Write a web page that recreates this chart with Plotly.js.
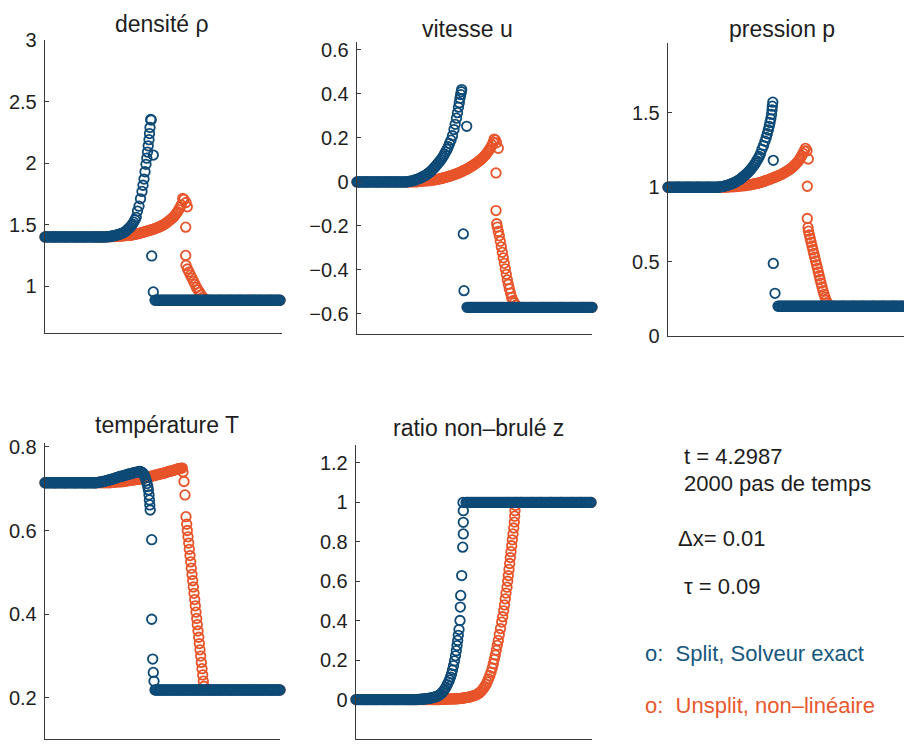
<!DOCTYPE html>
<html>
<head>
<meta charset="utf-8">
<script src="https://cdn.plot.ly/plotly-3.0.1.min.js"></script>
<style>html,body{margin:0;padding:0;background:#fff;}#chart{width:904px;height:748px;}</style>
</head>
<body>
<div id="chart"></div>
<script>
// ---- shared spatial mesh (position along the domain, same for every panel) ----
const xLeft = [0,1.25,2.5,3.75,5,6.25,7.5,8.75,10,11.25,
  12.5,13.75,15,16.25,17.5,18.75,20,21.25,22.5,23.75,
  25,26.25,27.5,28.75,30,31.25,32.5,33.75,35,36.25,
  37.5,38.75,40,41.25,42.5,43.75,45,46.25,47.5,48.75,
  50];
const xRight = [110,111.25,112.5,113.75,115,116.25,117.5,118.75,120,121.25,
  122.5,123.75,125,126.25,127.5,128.75,130,131.25,132.5,133.75,
  135,136.25,137.5,138.75,140,141.25,142.5,143.75,145,146.25,
  147.5,148.75,150,151.25,152.5,153.75,155,156.25,157.5,158.75,
  160,161.25,162.5,163.75,165,166.25,167.5,168.75,170,171.25,
  172.5,173.75,175,176.25,177.5,178.75,180,181.25,182.5,183.75,
  185,186.25,187.5,188.75,190,191.25,192.5,193.75,195,196.25,
  197.5,198.75,200,201.25,202.5,203.75,205,206.25,207.5,208.75,
  210,211.25,212.5,213.75,215,216.25,217.5,218.75,220,221.25,
  222.5,223.75,225,226.25,227.5,228.75,230,231.25,232.5,233.75,
  235];
const blueRiseX = [51.25,52.5,53.75,55,56.25,57.5,58.75,60,61.25,62.5,
  63.75,65,66.25,67.5,68.75,70,71.25,72.5,73.75,75,
  76.25,77.5,78.75,80,81.25,82.5,83.75,85,86.25,87.5,
  88.75,90,91.25];
const redRiseX = [52.5,55,57.5,60,62.5,65,67.5,70,72.5,75,
  76.25,77.5,78.75,80,81.25,82.5,83.75,85,86.25,87.5,
  88.75,90,91.25,92.5,93.75,95,96.25,97.5,98.75,100,
  101.25,102.5,103.75,105,106.25,107.5,108.75,110,111.25,112.5,
  113.75,115,116.25,117.5,118.75,120,121.25,122.5,123.75,125,
  126.25,127.5,128.75,130,131.25,132.5,133.75,135,136.25];
const xLeftCoarse = [0,10,20,30,40,50];
const xRightCoarse = [165,175,185,195,205,215,225,235];

// ================= densité rho =================
const rhoSplitLeftY = [1.4,1.4,1.4,1.4,1.4,1.4,1.4,1.4,1.4,1.4,
  1.4,1.4,1.4,1.4,1.4,1.4,1.4,1.4,1.4,1.4,
  1.4,1.4,1.4,1.4,1.4,1.4,1.4,1.4,1.4,1.4,
  1.4,1.4,1.4,1.4,1.4,1.4,1.4,1.4,1.4,1.4,
  1.4];
const rhoSplitRiseY = [1.4,1.4,1.4,1.4,1.4,1.4,1.4,1.4,1.401,1.402,
  1.403,1.404,1.406,1.408,1.41,1.412,1.415,1.418,1.421,1.424,
  1.428,1.432,1.437,1.442,1.45,1.46,1.47,1.48,1.492,1.505,
  1.52,1.54,1.56];
const rhoSplitJumpX = [92.5,94,95.5,97,98,99,100,101,101.8,102.5,103.2,104,104.5,105,105.7,106.2,108.3,106.7,108.3];
const rhoSplitJumpY = [1.61,1.65,1.71,1.77,1.82,1.87,1.93,1.99,2.04,2.09,2.14,2.19,2.24,2.29,2.355,2.35,2.065,1.246,0.954];
const rhoSplitRightY = [0.886,0.886,0.886,0.886,0.886,0.886,0.886,0.886,0.886,0.886,
  0.886,0.886,0.886,0.886,0.886,0.886,0.886,0.886,0.886,0.886,
  0.886,0.886,0.886,0.886,0.886,0.886,0.886,0.886,0.886,0.886,
  0.886,0.886,0.886,0.886,0.886,0.886,0.886,0.886,0.886,0.886,
  0.886,0.886,0.886,0.886,0.886,0.886,0.886,0.886,0.886,0.886,
  0.886,0.886,0.886,0.886,0.886,0.886,0.886,0.886,0.886,0.886,
  0.886,0.886,0.886,0.886,0.886,0.886,0.886,0.886,0.886,0.886,
  0.886,0.886,0.886,0.886,0.886,0.886,0.886,0.886,0.886,0.886,
  0.886,0.886,0.886,0.886,0.886,0.886,0.886,0.886,0.886,0.886,
  0.886,0.886,0.886,0.886,0.886,0.886,0.886,0.886,0.886,0.886,
  0.886];
const rhoUnsplitLeftY = [1.4,1.4,1.4,1.4,1.4,1.4];
const rhoUnsplitRiseY = [1.4,1.4,1.4,1.401,1.401,1.402,1.403,1.404,1.405,1.407,
  1.408,1.409,1.41,1.411,1.412,1.413,1.414,1.415,1.416,1.418,
  1.42,1.422,1.424,1.426,1.429,1.432,1.434,1.437,1.44,1.443,
  1.446,1.449,1.452,1.455,1.458,1.461,1.464,1.468,1.472,1.476,
  1.48,1.485,1.49,1.495,1.5,1.507,1.514,1.521,1.529,1.537,
  1.546,1.555,1.565,1.577,1.59,1.605,1.622,1.64,1.66];
const rhoUnsplitJumpX = [137.7,139,141,142.3,140.7,140.7,141,142.5,144,145.5,147,148.5,150,151.5,153,154.5,156,158,160];
const rhoUnsplitJumpY = [1.713,1.705,1.68,1.645,1.48,1.25,1.17,1.14,1.115,1.09,1.065,1.04,1.015,0.99,0.97,0.95,0.93,0.91,0.895];
const rhoUnsplitRightY = [0.886,0.886,0.886,0.886,0.886,0.886,0.886,0.886];

// ================= vitesse u =================
const uSplitLeftY = [0,0,0,0,0,0,0,0,0,0,
  0,0,0,0,0,0,0,0,0,0,
  0,0,0,0,0,0,0,0,0,0,
  0,0,0,0,0,0,0,0,0,0,
  0];
const uSplitRiseY = [0.002,0.003,0.004,0.005,0.006,0.008,0.01,0.012,0.014,0.016,
  0.019,0.022,0.025,0.028,0.031,0.035,0.039,0.043,0.048,0.054,
  0.06,0.066,0.072,0.079,0.086,0.093,0.1,0.108,0.117,0.127,
  0.137,0.148,0.16];
const uSplitJumpX = [92.5,94,95.5,97,98.2,99.5,100.5,101.5,102.3,103,103.7,104.3,104.7,109.7,106.3,107];
const uSplitJumpY = [0.175,0.19,0.21,0.238,0.262,0.29,0.315,0.34,0.36,0.38,0.397,0.41,0.42,0.253,-0.236,-0.494];
const uSplitRightY = [-0.57,-0.57,-0.57,-0.57,-0.57,-0.57,-0.57,-0.57,-0.57,-0.57,
  -0.57,-0.57,-0.57,-0.57,-0.57,-0.57,-0.57,-0.57,-0.57,-0.57,
  -0.57,-0.57,-0.57,-0.57,-0.57,-0.57,-0.57,-0.57,-0.57,-0.57,
  -0.57,-0.57,-0.57,-0.57,-0.57,-0.57,-0.57,-0.57,-0.57,-0.57,
  -0.57,-0.57,-0.57,-0.57,-0.57,-0.57,-0.57,-0.57,-0.57,-0.57,
  -0.57,-0.57,-0.57,-0.57,-0.57,-0.57,-0.57,-0.57,-0.57,-0.57,
  -0.57,-0.57,-0.57,-0.57,-0.57,-0.57,-0.57,-0.57,-0.57,-0.57,
  -0.57,-0.57,-0.57,-0.57,-0.57,-0.57,-0.57,-0.57,-0.57,-0.57,
  -0.57,-0.57,-0.57,-0.57,-0.57,-0.57,-0.57,-0.57,-0.57,-0.57,
  -0.57,-0.57,-0.57,-0.57,-0.57,-0.57,-0.57,-0.57,-0.57,-0.57,
  -0.57];
const uUnsplitLeftY = [0,0,0,0,0,0];
const uUnsplitRiseY = [0,0,0,0.001,0.002,0.003,0.004,0.005,0.006,0.008,
  0.009,0.01,0.011,0.012,0.013,0.014,0.015,0.017,0.018,0.02,
  0.021,0.023,0.025,0.026,0.028,0.03,0.032,0.034,0.036,0.038,
  0.04,0.043,0.045,0.048,0.051,0.054,0.056,0.059,0.062,0.066,
  0.069,0.073,0.076,0.08,0.084,0.088,0.092,0.097,0.101,0.106,
  0.112,0.118,0.124,0.131,0.139,0.147,0.157,0.168,0.18];
const uUnsplitJumpX = [137.2,138.5,139.5,141.3,139,139,139.7,140.3,141.3,142.3,143.3,144.3,145.3,146.3,147.3,148.3,149.3,150.3,151.3,152.3,153.5,154.7,156,157.3,158.7];
const uUnsplitJumpY = [0.195,0.19,0.178,0.153,0.041,-0.13,-0.19,-0.205,-0.225,-0.245,-0.27,-0.295,-0.32,-0.345,-0.37,-0.395,-0.42,-0.445,-0.465,-0.485,-0.505,-0.525,-0.54,-0.55,-0.56];
const uUnsplitRightY = [-0.57,-0.57,-0.57,-0.57,-0.57,-0.57,-0.57,-0.57];

// ================= pression p =================
const pSplitLeftY = [1,1,1,1,1,1,1,1,1,1,
  1,1,1,1,1,1,1,1,1,1,
  1,1,1,1,1,1,1,1,1,1,
  1,1,1,1,1,1,1,1,1,1,
  1];
const pSplitRiseY = [1.002,1.003,1.004,1.006,1.008,1.01,1.012,1.015,1.018,1.021,
  1.024,1.027,1.031,1.035,1.04,1.045,1.05,1.056,1.063,1.07,
  1.077,1.084,1.092,1.1,1.109,1.118,1.128,1.139,1.151,1.164,
  1.178,1.192,1.207];
const pSplitJumpX = [92.5,94,95.5,97,98.2,99.3,100.3,101.2,102,102.8,103.5,104,104.3,104.8,105.3,105.3,107];
const pSplitJumpY = [1.225,1.255,1.28,1.31,1.335,1.36,1.385,1.41,1.435,1.46,1.49,1.52,1.545,1.572,1.181,0.488,0.287];
const pSplitRightY = [0.2,0.2,0.2,0.2,0.2,0.2,0.2,0.2,0.2,0.2,
  0.2,0.2,0.2,0.2,0.2,0.2,0.2,0.2,0.2,0.2,
  0.2,0.2,0.2,0.2,0.2,0.2,0.2,0.2,0.2,0.2,
  0.2,0.2,0.2,0.2,0.2,0.2,0.2,0.2,0.2,0.2,
  0.2,0.2,0.2,0.2,0.2,0.2,0.2,0.2,0.2,0.2,
  0.2,0.2,0.2,0.2,0.2,0.2,0.2,0.2,0.2,0.2,
  0.2,0.2,0.2,0.2,0.2,0.2,0.2,0.2,0.2,0.2,
  0.2,0.2,0.2,0.2,0.2,0.2,0.2,0.2,0.2,0.2,
  0.2,0.2,0.2,0.2,0.2,0.2,0.2,0.2,0.2,0.2,
  0.2,0.2,0.2,0.2,0.2,0.2,0.2,0.2,0.2,0.2,
  0.2];
const pUnsplitLeftY = [1,1,1,1,1,1];
const pUnsplitRiseY = [1,1,1,1.001,1.002,1.003,1.004,1.006,1.008,1.01,
  1.011,1.012,1.013,1.015,1.016,1.018,1.019,1.021,1.023,1.024,
  1.026,1.028,1.03,1.033,1.035,1.038,1.041,1.044,1.047,1.05,
  1.053,1.056,1.06,1.063,1.066,1.07,1.073,1.077,1.08,1.084,
  1.088,1.093,1.097,1.102,1.108,1.113,1.118,1.124,1.131,1.138,
  1.146,1.154,1.163,1.173,1.185,1.198,1.212,1.228,1.245];
const pUnsplitJumpX = [137.5,139,140.3,139.3,139.3,140,140.5,141.3,142.2,143.1,144,144.9,145.8,146.7,147.6,148.5,149.4,150.3,151.2,152.1,153,154,155,156,157,158,159,160];
const pUnsplitJumpY = [1.262,1.245,1.19,1.007,0.79,0.73,0.705,0.68,0.655,0.63,0.605,0.58,0.555,0.53,0.505,0.48,0.455,0.43,0.405,0.38,0.355,0.33,0.305,0.28,0.26,0.24,0.225,0.21];
const pUnsplitRightY = [0.2,0.2,0.2,0.2,0.2,0.2,0.2,0.2];

// ================= température T =================
const tSplitLeftY = [0.714,0.714,0.714,0.714,0.714,0.714,0.714,0.714,0.714,0.714,
  0.714,0.714,0.714,0.714,0.714,0.714,0.714,0.714,0.714,0.714,
  0.714,0.714,0.714,0.714,0.714,0.714,0.714,0.714,0.714,0.714,
  0.714,0.714,0.714,0.714,0.714,0.714,0.714,0.714,0.714,0.714,
  0.714];
const tSplitRiseY = [0.714,0.715,0.715,0.716,0.716,0.717,0.717,0.718,0.719,0.72,
  0.72,0.721,0.722,0.723,0.724,0.725,0.726,0.727,0.728,0.729,
  0.73,0.73,0.731,0.732,0.733,0.734,0.735,0.735,0.736,0.737,
  0.738,0.739,0.739];
const tSplitJumpX = [92.5,94,95.5,97,98.2,99.3,100.2,101.2,102,102.8,103.4,104,104.4,104.8,105.2,106.7,106.7,107.7,108.3,109];
const tSplitJumpY = [0.74,0.741,0.741,0.739,0.736,0.732,0.726,0.719,0.712,0.705,0.697,0.685,0.673,0.661,0.649,0.578,0.388,0.293,0.261,0.24];
const tSplitRightY = [0.219,0.219,0.219,0.219,0.219,0.219,0.219,0.219,0.219,0.219,
  0.219,0.219,0.219,0.219,0.219,0.219,0.219,0.219,0.219,0.219,
  0.219,0.219,0.219,0.219,0.219,0.219,0.219,0.219,0.219,0.219,
  0.219,0.219,0.219,0.219,0.219,0.219,0.219,0.219,0.219,0.219,
  0.219,0.219,0.219,0.219,0.219,0.219,0.219,0.219,0.219,0.219,
  0.219,0.219,0.219,0.219,0.219,0.219,0.219,0.219,0.219,0.219,
  0.219,0.219,0.219,0.219,0.219,0.219,0.219,0.219,0.219,0.219,
  0.219,0.219,0.219,0.219,0.219,0.219,0.219,0.219,0.219,0.219,
  0.219,0.219,0.219,0.219,0.219,0.219,0.219,0.219,0.219,0.219,
  0.219,0.219,0.219,0.219,0.219,0.219,0.219,0.219,0.219,0.219,
  0.219];
const tUnsplitLeftY = [0.714,0.714,0.714,0.714,0.714,0.714];
const tUnsplitRiseY = [0.714,0.714,0.714,0.714,0.714,0.714,0.715,0.715,0.716,0.716,
  0.717,0.717,0.717,0.718,0.718,0.719,0.719,0.72,0.72,0.721,
  0.721,0.721,0.722,0.722,0.723,0.723,0.724,0.725,0.725,0.726,
  0.727,0.727,0.728,0.729,0.73,0.73,0.731,0.732,0.733,0.733,
  0.734,0.735,0.736,0.736,0.737,0.738,0.739,0.74,0.741,0.742,
  0.742,0.743,0.744,0.745,0.746,0.747,0.748,0.748,0.749];
const tUnsplitJumpX = [137.3,138,139,140,141,141.7,142.3,143,143.7,144.3,145,145.7,146.3,147,147.7,148.3,149,149.7,150.3,151,151.7,152.3,153,153.7,154.3,155,155.7,156.3,157,157.7,158.3,159];
const tUnsplitJumpY = [0.749,0.74,0.717,0.685,0.633,0.615,0.6,0.585,0.57,0.555,0.54,0.525,0.51,0.495,0.48,0.465,0.45,0.435,0.42,0.405,0.39,0.375,0.36,0.345,0.33,0.315,0.3,0.285,0.27,0.255,0.24,0.228];
const tUnsplitRightY = [0.219,0.219,0.219,0.219,0.219,0.219,0.219,0.219];

// ================= ratio non-brulé z =================
const zSplitLeftY = [0,0,0,0,0,0,0,0,0,0,
  0,0,0,0,0,0,0,0,0,0,
  0,0,0,0,0,0,0,0,0,0,
  0,0,0,0,0,0,0,0,0,0,
  0];
const zSplitRiseY = [0,0,0,0,0,0,0,0,0,0.001,
  0.001,0.002,0.002,0.003,0.003,0.004,0.005,0.006,0.007,0.008,
  0.01,0.011,0.013,0.015,0.017,0.02,0.025,0.03,0.036,0.043,
  0.052,0.063,0.076];
const zSplitJumpX = [92.5,93.5,94.5,95.5,96.5,97.5,98.5,99.5,100.3,101,101.7,102.3,103,104,104.3,104.7,105.7,106.7,107.3,107.3,107.3,107];
const zSplitJumpY = [0.088,0.1,0.114,0.13,0.15,0.172,0.196,0.222,0.248,0.274,0.3,0.326,0.355,0.401,0.469,0.528,0.629,0.773,0.84,0.899,0.958,1];
const zSplitRightY = [1,1,1,1,1,1,1,1,1,1,
  1,1,1,1,1,1,1,1,1,1,
  1,1,1,1,1,1,1,1,1,1,
  1,1,1,1,1,1,1,1,1,1,
  1,1,1,1,1,1,1,1,1,1,
  1,1,1,1,1,1,1,1,1,1,
  1,1,1,1,1,1,1,1,1,1,
  1,1,1,1,1,1,1,1,1,1,
  1,1,1,1,1,1,1,1,1,1,
  1,1,1,1,1,1,1,1,1,1,
  1];
const zUnsplitLeftY = [0,0,0,0,0,0];
const zUnsplitRiseY = [0,0,0,0,0,0,0,0,0,0,
  0,0,0,0,0,0,0,0.001,0.001,0.001,
  0.002,0.002,0.002,0.002,0.003,0.003,0.003,0.003,0.004,0.004,
  0.004,0.005,0.005,0.006,0.007,0.008,0.009,0.01,0.011,0.012,
  0.014,0.015,0.017,0.019,0.021,0.024,0.027,0.031,0.036,0.042,
  0.049,0.057,0.066,0.077,0.09,0.105,0.121,0.139,0.16];
const zUnsplitJumpX = [137.3,138.3,139.3,140.3,141.3,142.3,143.3,144.5,145.7,146.7,147.7,148.5,149.3,150,151,151.7,152.3,153,153.7,154.3,155,155.7,156.3,157,157.7,158.3,158.7,159,159.5,160];
const zUnsplitJumpY = [0.182,0.204,0.226,0.25,0.275,0.3,0.33,0.36,0.393,0.42,0.45,0.48,0.511,0.54,0.57,0.6,0.629,0.66,0.69,0.72,0.75,0.78,0.81,0.84,0.87,0.9,0.93,0.958,0.985,1];
const zUnsplitRightY = [1,1,1,1,1,1,1,1];

// ---- tick labels ----
const rhoTicks = [1,1.5,2,2.5,3];
const rhoTickText = ['1','1.5','2','2.5','3'];
const uTicks = [-0.6,-0.4,-0.2,0,0.2,0.4,0.6];
const uTickText = ['\u22120.6','\u22120.4','\u22120.2','0','0.2','0.4','0.6'];
const pTicks = [0,0.5,1,1.5];
const pTickText = ['0','0.5','1','1.5'];
const tTicks = [0.2,0.4,0.6,0.8];
const tTickText = ['0.2','0.4','0.6','0.8'];
const zTicks = [-0.2,0,0.2,0.4,0.6,0.8,1,1.2];
const zTickText = ['\u22120.2','0','0.2','0.4','0.6','0.8','1','1.2'];

const titles = ['densité ρ','vitesse u','pression p','température T','ratio non\u2013brulé z'];
const infoLines = ['t = 4.2987','2000 pas de temps','\u0394x= 0.01','\u03c4 = 0.09'];
const legendLabels = ['o:\u00a0 Split, Solveur exact','o:\u00a0 Unsplit, non\u2013linéaire'];

// ---- styling ----
const W = 904, H = 748;
const BLUE = '#0e4a76', ORANGE = '#e8542a';
const FONT = 'Liberation Sans, Arial, Helvetica, sans-serif';
const TXT = '#1e1e1e';
const fx = px => px / W;
const fy = py => 1 - py / H;

function series(xs, ys, color, ax) {
  return {
    type: 'scatter', mode: 'markers', x: [].concat(...xs), y: [].concat(...ys),
    xaxis: 'x' + ax, yaxis: 'y' + ax, cliponaxis: false, hoverinfo: 'skip',
    marker: {symbol: 'circle-open', size: 9.5, color: color, line: {width: 1.8, color: color}}
  };
}

const traces = [
  series([xLeftCoarse, redRiseX, rhoUnsplitJumpX, xRightCoarse], [rhoUnsplitLeftY, rhoUnsplitRiseY, rhoUnsplitJumpY, rhoUnsplitRightY], ORANGE, ''),
  series([xLeft, blueRiseX, rhoSplitJumpX, xRight], [rhoSplitLeftY, rhoSplitRiseY, rhoSplitJumpY, rhoSplitRightY], BLUE, ''),
  series([xLeftCoarse, redRiseX, uUnsplitJumpX, xRightCoarse], [uUnsplitLeftY, uUnsplitRiseY, uUnsplitJumpY, uUnsplitRightY], ORANGE, '2'),
  series([xLeft, blueRiseX, uSplitJumpX, xRight], [uSplitLeftY, uSplitRiseY, uSplitJumpY, uSplitRightY], BLUE, '2'),
  series([xLeftCoarse, redRiseX, pUnsplitJumpX, xRightCoarse], [pUnsplitLeftY, pUnsplitRiseY, pUnsplitJumpY, pUnsplitRightY], ORANGE, '3'),
  series([xLeft, blueRiseX, pSplitJumpX, xRight], [pSplitLeftY, pSplitRiseY, pSplitJumpY, pSplitRightY], BLUE, '3'),
  series([xLeftCoarse, redRiseX, tUnsplitJumpX, xRightCoarse], [tUnsplitLeftY, tUnsplitRiseY, tUnsplitJumpY, tUnsplitRightY], ORANGE, '4'),
  series([xLeft, blueRiseX, tSplitJumpX, xRight], [tSplitLeftY, tSplitRiseY, tSplitJumpY, tSplitRightY], BLUE, '4'),
  series([xLeftCoarse, redRiseX, zUnsplitJumpX, xRightCoarse], [zUnsplitLeftY, zUnsplitRiseY, zUnsplitJumpY, zUnsplitRightY], ORANGE, '5'),
  series([xLeft, blueRiseX, zSplitJumpX, xRight], [zSplitLeftY, zSplitRiseY, zSplitJumpY, zSplitRightY], BLUE, '5')
];

function xax(l, r, range, anchor) {
  return {domain: [fx(l), Math.min(1, fx(r))], range: range, anchor: anchor,
    showline: true, linecolor: '#3a3a3a', linewidth: 1.3, ticks: '', showticklabels: false,
    showgrid: false, zeroline: false, fixedrange: true};
}
function yax(top, bottom, range, tv, tt, anchor) {
  return {domain: [fy(bottom), fy(top)], range: range, anchor: anchor,
    showline: true, linecolor: '#3a3a3a', linewidth: 1.3, ticks: 'inside', ticklen: 4,
    tickwidth: 1, tickcolor: '#3a3a3a', tickvals: tv, ticktext: tt, ticklabelstandoff: 3,
    tickfont: {family: FONT, size: 20, color: TXT},
    showgrid: false, zeroline: false, fixedrange: true};
}

const annotations = [];
const titlePos = [[162, 24], [467, 29], [782, 29], [167, 425], [478, 428]];
titles.forEach((t, i) => annotations.push({
  text: t, xref: 'paper', yref: 'paper', x: fx(titlePos[i][0]), y: fy(titlePos[i][1]),
  xanchor: 'center', yanchor: 'middle', showarrow: false,
  font: {family: FONT, size: 23, color: TXT}
}));
const infoPos = [[682, 456], [682, 483], [676, 538], [682, 586]];
infoLines.forEach((t, i) => annotations.push({
  text: t, xref: 'paper', yref: 'paper', x: fx(infoPos[i][0]), y: fy(infoPos[i][1]),
  xanchor: 'left', yanchor: 'middle', showarrow: false,
  font: {family: FONT, size: 22, color: TXT}
}));
const legendPos = [[643, 653], [643, 705]];
const legendColors = ['#17587e', '#e8582e'];
legendLabels.forEach((t, i) => annotations.push({
  text: t, xref: 'paper', yref: 'paper', x: fx(legendPos[i][0]), y: fy(legendPos[i][1]),
  xanchor: 'left', yanchor: 'middle', showarrow: false,
  font: {family: FONT, size: 22, color: legendColors[i]}
}));

const layout = {
  width: W, height: H, margin: {l: 0, r: 0, t: 0, b: 0},
  paper_bgcolor: '#ffffff', plot_bgcolor: 'rgba(0,0,0,0)', showlegend: false,
  xaxis: xax(45, 282, [0, 237], 'y'),
  yaxis: yax(40, 333, [0.62, 3], rhoTicks, rhoTickText, 'x'),
  xaxis2: xax(357, 592, [0, 235], 'y2'),
  yaxis2: yax(42, 334, [-0.691, 0.636], uTicks, uTickText, 'x2'),
  xaxis3: xax(668, 904, [0, 236], 'y3'),
  yaxis3: yax(43, 336, [0, 1.97], pTicks, pTickText, 'x3'),
  xaxis4: xax(45, 280, [0, 235], 'y4'),
  yaxis4: yax(443, 739, [0.102, 0.809], tTicks, tTickText, 'x4'),
  xaxis5: xax(356, 592, [0, 236], 'y5'),
  yaxis5: yax(445, 739, [-0.2, 1.291], zTicks, zTickText, 'x5'),
  annotations: annotations
};

Plotly.newPlot('chart', traces, layout, {displayModeBar: false, staticPlot: true});
</script>
</body>
</html>
